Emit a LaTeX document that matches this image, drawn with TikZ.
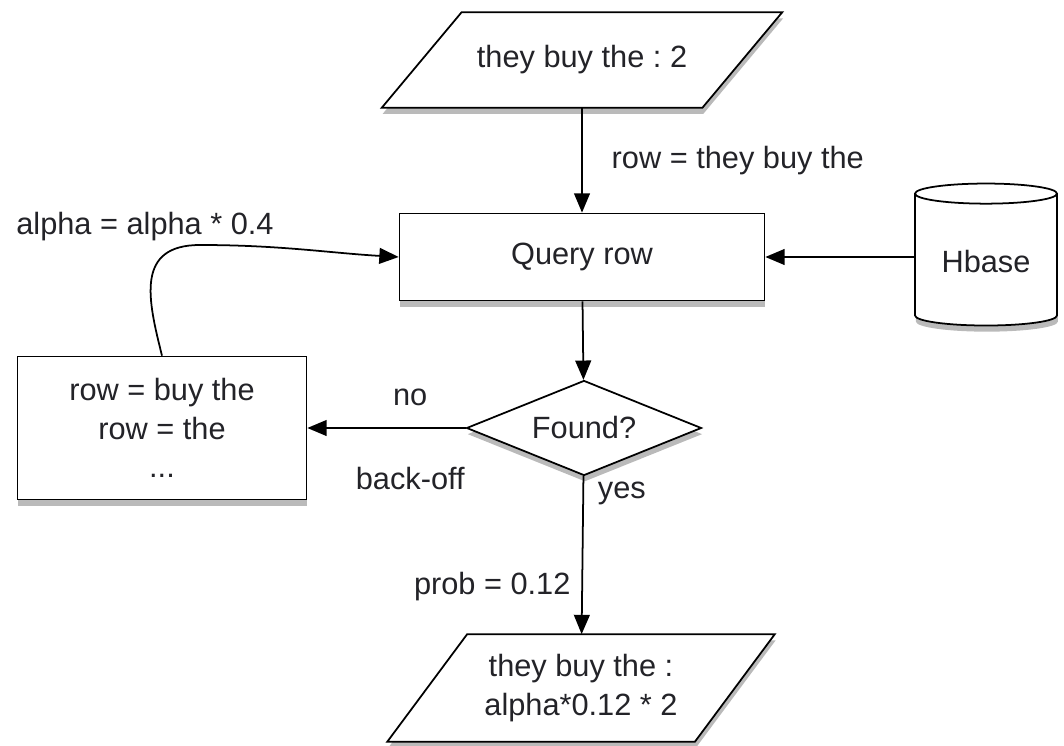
\documentclass[tikz,border=0pt]{standalone}
\usepackage{fontspec}
\setmainfont{Liberation Sans}
\usepackage{tikz}
\usetikzlibrary{positioning}
\usetikzlibrary{arrows.meta}
\usetikzlibrary{shapes,shadows,calc,backgrounds}
\definecolor{mytext}{RGB}{35,35,40}

\begin{document}
\frenchspacing
\begin{tikzpicture}[x=0.02cm,y=-0.02cm,font=\fontsize{17.5}{22}\selectfont,text=mytext,
	myshadow/.style={drop shadow={shadow xshift=0.5pt,shadow yshift=-3.5pt,opacity=0.45,fill=black!60}}]
	\useasboundingbox (0,0) rectangle (1064,746);
	\begin{scope}[every node/.style={draw=black,line width=1pt,fill=white,align=center,myshadow}]
	    \node (Query) [rectangle,minimum width=7.3cm,minimum height=1.74cm] at (582,257) {Query row};
	    \node (Db) [cylinder,shape border rotate=90,aspect=0.2,minimum width=2.84cm,minimum height=2.84cm] at (986,262) {Hbase};
	    \node (Found) [diamond,aspect=2.5,minimum width=4.7cm,minimum height=1.9cm,inner sep=0pt] at (584,428) {Found?};
	    \node (Backoff) [rectangle,minimum width=5.78cm,minimum height=2.86cm] at (162,428) {row = buy the\\row = the\\...};
	\end{scope}

	% input / output, parallelograms drawn behind
	\node (In) [minimum width=6.4cm,minimum height=1.9cm,inner sep=0pt] at (582,60) {they buy the : 2};
	\node (Out) [minimum width=6.14cm,minimum height=2.14cm,inner sep=0pt,align=center] at (581,688) {they buy the :\\alpha*0.12 * 2};
	\begin{scope}[on background layer]
	    \draw [line width=1pt,fill=white,myshadow] ([xshift=-0.8cm]In.south west) -- ([xshift=-0.8cm]In.south east)
	          -- ([xshift=0.8cm]In.north east) -- ([xshift=0.8cm]In.north west) -- cycle;
	    \draw [line width=1pt,fill=white,myshadow] ([xshift=-0.8cm]Out.south west) -- ([xshift=-0.8cm]Out.south east)
	          -- ([xshift=0.8cm]Out.north east) -- ([xshift=0.8cm]Out.north west) -- cycle;
	\end{scope}

	\node (Alpha) at (145,227) {alpha = alpha * 0.4};

	\begin{scope}[>={Triangle[length=11pt,width=9pt]},
	              every edge/.style={draw=black,line width=1pt}]
    	\path [->] (In) edge node[right=0.46cm] {row = they buy the} (Query);
    	\path [->] (Query -| Db.west) edge (Query);
    	\path [->] (Query) edge (Found);
    	\path [->] (Found) edge node[pos=0.35,above=0.3cm] {no} node[pos=0.35,below=0.65cm] {back-off} (Backoff);
    	\path [->] (Found) edge node[pos=0.11,right=0.16cm] {yes} node[pos=0.7,left=0.1cm] {prob = 0.12} (Out);
    	\draw [->,line width=1pt] (Backoff.north) .. controls (148,300) and (135,245) .. (200,245)
    	      .. controls (280,245) and (330,253) .. (Query.west);
	\end{scope}
\end{tikzpicture}
\end{document}
